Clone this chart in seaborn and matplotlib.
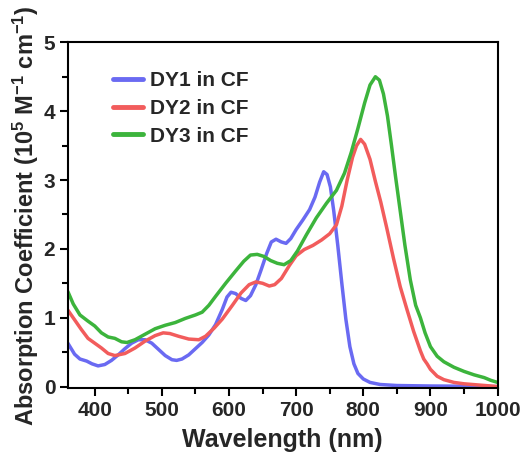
import matplotlib
matplotlib.use("Agg")
import matplotlib.pyplot as plt
from matplotlib.ticker import MultipleLocator
import seaborn as sns
import pandas as pd

dy1_wl = [360, 365, 370, 378, 388, 396, 405, 415, 425, 435, 445, 455, 465, 475, 485,
          495, 505, 515, 522, 530, 540, 550, 560, 570, 580, 590, 597, 603, 610, 618,
          625, 632, 640, 648, 656, 663, 670, 678, 685, 692, 700, 710, 720, 728, 735,
          741, 746, 751, 756, 762, 768, 774, 780, 786, 792, 800, 810, 825, 850, 900,
          950, 1000]
dy1_ab = [0.63, 0.55, 0.47, 0.40, 0.37, 0.33, 0.30, 0.32, 0.38, 0.46, 0.55, 0.63, 0.68, 0.68, 0.63,
          0.54, 0.45, 0.39, 0.38, 0.40, 0.46, 0.55, 0.64, 0.75, 0.90, 1.12, 1.30, 1.37, 1.35, 1.28,
          1.25, 1.32, 1.48, 1.70, 1.93, 2.10, 2.14, 2.10, 2.08, 2.15, 2.28, 2.42, 2.57, 2.75, 2.97,
          3.12, 3.08, 2.90, 2.55, 2.05, 1.50, 0.98, 0.58, 0.33, 0.19, 0.11, 0.06, 0.03, 0.015, 0.008,
          0.005, 0.0]

dy2_wl = [360, 370, 380, 390, 400, 410, 420, 430, 445, 460, 475, 490, 502, 512, 525,
          540, 555, 565, 578, 590, 605, 618, 630, 640, 650, 660, 668, 678, 690, 700,
          712, 725, 738, 750, 760, 768, 776, 784, 790, 796, 802, 810, 818, 826, 835,
          845, 855, 865, 875, 885, 890, 895, 900, 910, 920, 935, 950, 975, 1000]
dy2_ab = [1.11, 0.97, 0.83, 0.70, 0.63, 0.56, 0.48, 0.45, 0.48, 0.56, 0.66, 0.74, 0.78, 0.77, 0.73,
          0.69, 0.68, 0.73, 0.85, 0.98, 1.18, 1.36, 1.48, 1.52, 1.50, 1.46, 1.48, 1.57, 1.76, 1.90,
          1.99, 2.05, 2.13, 2.22, 2.35, 2.62, 3.00, 3.33, 3.50, 3.59, 3.52, 3.30, 2.98, 2.68, 2.30,
          1.86, 1.45, 1.12, 0.80, 0.52, 0.40, 0.33, 0.25, 0.15, 0.10, 0.06, 0.04, 0.02, 0.0]

dy3_wl = [360, 368, 378, 390, 400, 410, 420, 430, 440, 448, 460, 475, 490, 505, 520,
          535, 550, 560, 570, 580, 595, 610, 622, 632, 642, 652, 662, 672, 682, 692,
          702, 715, 730, 745, 760, 772, 782, 792, 802, 810, 818, 824, 830, 836, 842,
          848, 855, 862, 870, 878, 885, 892, 900, 910, 920, 935, 950, 965, 980, 990,
          1000]
dy3_ab = [1.38, 1.20, 1.04, 0.95, 0.88, 0.78, 0.72, 0.70, 0.65, 0.64, 0.68, 0.76, 0.84, 0.89, 0.93,
          0.99, 1.04, 1.08, 1.18, 1.31, 1.50, 1.68, 1.82, 1.91, 1.92, 1.89, 1.83, 1.79, 1.77, 1.83,
          1.97, 2.20, 2.45, 2.66, 2.85, 3.10, 3.40, 3.75, 4.12, 4.38, 4.50, 4.45, 4.25, 3.93, 3.50,
          3.05, 2.55, 2.05, 1.55, 1.18, 1.00, 0.78, 0.58, 0.44, 0.36, 0.28, 0.22, 0.17, 0.13, 0.09,
          0.06]

labels = ["DY1 in CF", "DY2 in CF", "DY3 in CF"]
colors = ["#6a6af2", "#f25c5c", "#3cb43c"]

df = pd.concat([
    pd.DataFrame({"wl": dy1_wl, "ab": dy1_ab, "series": labels[0]}),
    pd.DataFrame({"wl": dy2_wl, "ab": dy2_ab, "series": labels[1]}),
    pd.DataFrame({"wl": dy3_wl, "ab": dy3_ab, "series": labels[2]}),
])

sns.set_theme(style="white")
plt.rcParams["font.family"] = ["Liberation Sans", "DejaVu Sans"]
plt.rcParams["font.weight"] = "bold"
plt.rcParams["mathtext.fontset"] = "custom"
plt.rcParams["mathtext.rm"] = "Liberation Sans:bold"
plt.rcParams["mathtext.bf"] = "Liberation Sans:bold"
plt.rcParams["mathtext.it"] = "Liberation Sans:bold"
plt.rcParams["mathtext.default"] = "bf"

fig = plt.figure(figsize=(5.26, 4.65), dpi=100)
ax = fig.add_axes([0.129, 0.165, 0.817, 0.744])

sns.lineplot(data=df, x="wl", y="ab", hue="series", palette=dict(zip(labels, colors)),
             linewidth=2.5, ax=ax, sort=False, estimator=None)

ax.set_xlim(360, 1000)
ax.set_ylim(-0.025, 5)
ax.xaxis.set_major_locator(MultipleLocator(100))
ax.xaxis.set_minor_locator(MultipleLocator(50))
ax.yaxis.set_major_locator(MultipleLocator(1))
ax.yaxis.set_minor_locator(MultipleLocator(0.5))
ax.tick_params(which="major", direction="out", length=6, width=1.5, labelsize=15,
               bottom=True, left=True, top=False, right=False, pad=3, color="black")
ax.tick_params(which="minor", direction="out", length=4, width=1.5,
               bottom=True, left=True, top=False, right=False, color="black")
for lab in ax.get_xticklabels() + ax.get_yticklabels():
    lab.set_fontweight("bold")
for s in ax.spines.values():
    s.set_linewidth(1.5)
    s.set_color("black")

ax.set_xlabel("Wavelength (nm)", fontsize=18, fontweight="bold", labelpad=6)
ax.set_ylabel(r"Absorption Coefficient (10$^{5}$ M$^{-1}$ cm$^{-1}$)",
              fontsize=17, fontweight="bold", labelpad=2)

leg = ax.legend(loc="upper left", bbox_to_anchor=(0.086, 0.941), frameon=False,
                fontsize=15, handlelength=1.45, handletextpad=0.3, labelspacing=0.42,
                borderaxespad=0)
for t in leg.get_texts():
    t.set_fontweight("bold")
for l in leg.get_lines():
    l.set_linewidth(3.5)

fig.savefig("out.png", dpi=100)
